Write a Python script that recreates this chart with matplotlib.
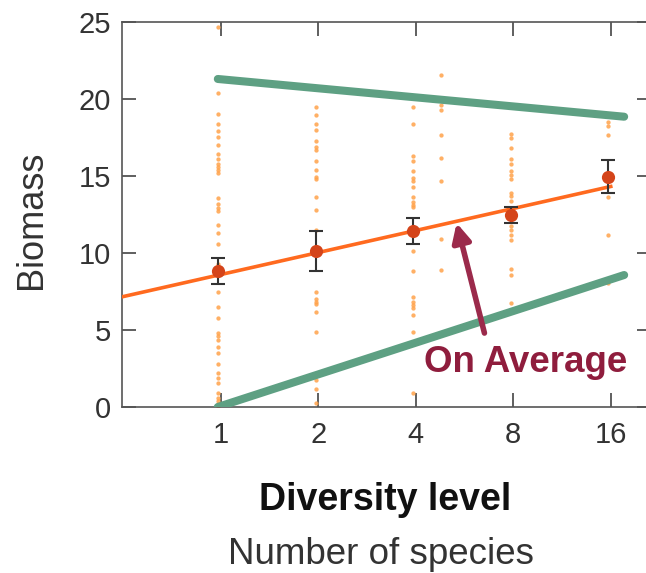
import matplotlib
matplotlib.use("Agg")
import matplotlib.pyplot as plt
from matplotlib.ticker import NullLocator, FixedLocator, FixedFormatter
import numpy as np

plt.rcParams['font.family'] = ['Liberation Sans', 'DejaVu Sans']

# ---------------- data ----------------
diversity = [1, 2, 4, 8, 16]
tick_labels = ["1", "2", "4", "8", "16"]

raw_1 = [24.66, 20.4, 19.0, 18.4, 17.9, 17.55, 17.0, 16.4, 16.1, 15.8, 15.6, 15.4, 15.2,
         13.55, 13.2, 12.9, 12.7, 11.8, 11.3, 10.6, 9.3, 7.5, 6.5, 5.76, 4.8, 4.6, 4.35,
         3.9, 3.5, 2.8, 2.2, 1.86, 1.54, 0.9, 0.6, 0.4, 0.2, 0.07]
raw_2 = [19.46, 18.96, 18.4, 18.0, 17.3, 16.9, 16.7, 16.0, 15.4, 14.95, 14.8, 13.66,
         12.8, 11.5, 7.45, 7.0, 6.84, 6.67, 6.2, 4.9, 1.75, 1.2, 0.24]
raw_4 = [19.5, 18.4, 16.3, 16.0, 15.3, 14.85, 14.7, 14.3, 13.66, 13.3, 13.1, 12.97,
         10.1, 8.8, 7.16, 6.84, 6.6, 6.4, 5.97, 4.9, 0.9]
raw_extra_x = 4.86
raw_extra = [21.56, 19.6, 19.3, 17.66, 16.15, 14.7, 10.9, 8.9]
raw_8 = [17.7, 17.5, 16.8, 16.1, 15.8, 15.3, 15.06, 14.8, 13.9, 13.7, 13.4, 11.75,
         11.5, 11.17, 10.84, 8.94, 8.57, 6.73]
raw_16 = [18.5, 18.27, 17.66, 13.66, 11.17, 8.07]

mean_biomass = [8.8, 10.1, 11.45, 12.45, 14.95]
err_low = [8.0, 8.8, 10.56, 11.93, 13.88]
err_high = [9.7, 11.4, 12.3, 13.0, 16.04]

fit_intercept = 8.6    # biomass at 1 species
fit_slope = 1.43       # per doubling of species

upper_x = [0.98, 17.6]
upper_y = [21.3, 18.85]
lower_x = [0.98, 17.6]
lower_y = [0.0, 8.57]

# ---------------- figure ----------------
W, H = 646, 573
fig = plt.figure(figsize=(W / 100, H / 100), dpi=100)
L, R, T, B = 122, 651, 22, 407
ax = fig.add_axes([L / W, 1 - B / H, (R - L) / W, (B - T) / H])

ax.set_xscale('log', base=2)
xmin, xmax = 0.496, 21.3
ax.set_xlim(xmin, xmax)
ax.set_ylim(0, 25)

off = 0.982  # small left offset of the data columns

dot_c = '#ffa24a'
cols = [(1, raw_1), (2, raw_2), (4, raw_4), (raw_extra_x, raw_extra), (8, raw_8), (16, raw_16)]
for xv, ys in cols:
    ax.plot([xv * off] * len(ys), ys, 'o', ms=3.1, color=dot_c, mec='none', alpha=0.85, zorder=2)

# green envelope lines
green = '#5ea083'
ax.plot(upper_x, upper_y, color=green, lw=5.8, solid_capstyle='round', zorder=3)
ax.plot(lower_x, lower_y, color=green, lw=5.8, solid_capstyle='round', zorder=3)

# fit line
fx = np.array([xmin, 16])
fy = fit_intercept + fit_slope * np.log2(fx)
ax.plot(fx, fy, color='#ff6a1f', lw=2.6, zorder=4)

# means with error bars
mx = np.array(diversity) * off
m = np.array(mean_biomass)
yerr = np.vstack([m - np.array(err_low), np.array(err_high) - m])
ax.errorbar(mx, m, yerr=yerr, fmt='none', ecolor='#333333', elinewidth=1.5,
            capsize=4.7, capthick=1.5, zorder=5)
ax.plot(mx, m, 'o', ms=9.5, color='#d4441a', mec='none', zorder=6)

# annotation
ax.annotate('', xy=(5.35, 11.95), xytext=(6.52, 4.8),
            arrowprops=dict(arrowstyle='-|>,head_length=1.1,head_width=0.55',
                            color='#9b2a4b', lw=4.0, shrinkA=0, shrinkB=0), zorder=7)
ax.text(8.72, 2.3, 'On Average', fontsize=26.5, fontweight='bold', color='#8f1d3d',
        ha='center', va='baseline', zorder=8)

# axes styling
ax.xaxis.set_major_locator(FixedLocator(diversity))
ax.xaxis.set_major_formatter(FixedFormatter(tick_labels))
ax.xaxis.set_minor_locator(NullLocator())
ax.set_yticks([0, 5, 10, 15, 20, 25])
ax.tick_params(axis='both', which='major', direction='in', length=10, width=1.2,
               color='#444444', labelcolor='#333333', labelsize=21,
               top=True, right=True)
ax.tick_params(axis='y', pad=8)
ax.tick_params(axis='x', pad=10)
for s in ax.spines.values():
    s.set_color('#555555')
    s.set_linewidth(1.2)

fig.text(32 / W, 1 - 220 / H, 'Biomass', rotation=90, fontsize=26, color='#333333',
         ha='center', va='center')
fig.text(385 / W, 1 - 510 / H, 'Diversity level', fontsize=27, fontweight='bold',
         color='#111111', ha='center', va='baseline')
fig.text(381 / W, 1 - 564 / H, 'Number of species', fontsize=26.5, color='#333333',
         ha='center', va='baseline')

fig.savefig('out.png', dpi=100)
